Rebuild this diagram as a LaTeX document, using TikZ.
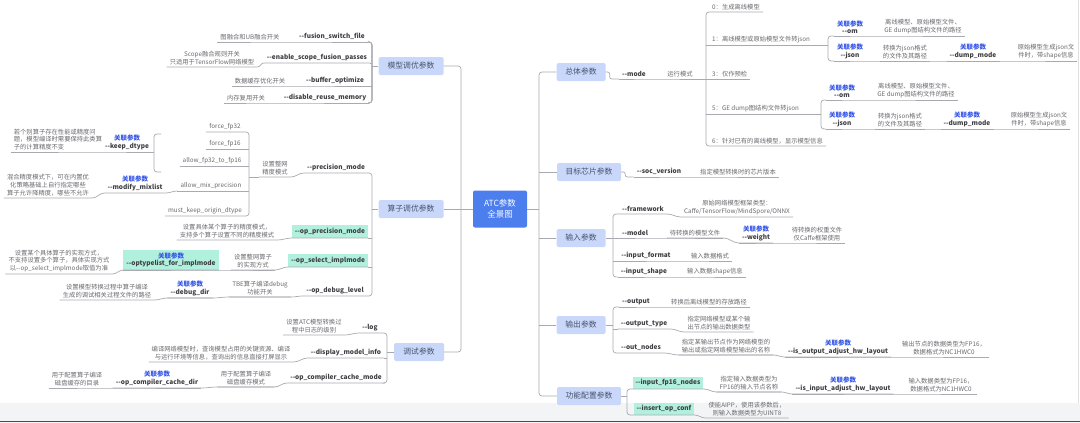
\documentclass[tikz,border=0pt]{standalone}
\usepackage{fontspec}
\setmainfont{Noto Sans CJK SC}
\usepackage{tikz}
\definecolor{lineg}{RGB}{168,170,176}
\definecolor{rootc}{RGB}{76,126,238}
\definecolor{topicc}{RGB}{201,215,250}
\definecolor{topict}{RGB}{72,84,110}
\definecolor{desct}{RGB}{105,105,110}
\definecolor{prmt}{RGB}{62,62,66}
\definecolor{relc}{RGB}{52,84,232}
\definecolor{tealc}{RGB}{178,240,222}
\definecolor{bandc}{RGB}{243,244,246}
\tikzset{
  ln/.style={draw=lineg, line width=.7pt},
  root/.style={fill=rootc, text=white, rounded corners=2pt, minimum width=54pt, minimum height=37pt, align=center, font=\fontsize{8.5}{11}\selectfont},
  topic/.style={fill=topicc, text=topict, rounded corners=1.5pt, minimum height=18pt, font=\fontsize{7.8}{9}\selectfont},
  desc/.style={anchor=south, text=desct, align=center, inner xsep=3pt, inner ysep=2pt, font=\fontsize{6.3}{7.6}\selectfont},
  prm/.style={desc, text=prmt, font=\bfseries\fontsize{6.5}{7.6}\selectfont},
  hl/.style={prm, fill=tealc, minimum height=13pt},
}
\newcommand{\dopt}[1]{-{}-#1}
\newcommand{\relp}[1]{{\color{relc}关联参数}\\\dopt{#1}}
\newcommand{\lnk}[2]{\draw[ln] (#1.south west) -- (#1.south east) to[out=0,in=180] (#2.south west) -- (#2.south east);}
\begin{document}
\begin{tikzpicture}[x=1pt, y=-1pt]
\useasboundingbox (0,0) rectangle (1080,423);
\fill[bandc] (0,403) rectangle (1080,423);
\draw[black!70, line width=1.5pt] (0,421.5) -- (1080,421.5);
\draw[black!12] (1078,0) -- (1078,403);

% bracket positions
\coordinate (lt) at (461,0);
\coordinate (rt) at (539,0);
\coordinate (b1) at (372,0);
\coordinate (b3) at (387,0);
\coordinate (bm) at (249,0);
\coordinate (bv) at (706,0);
\coordinate (c1) at (828,0);
\coordinate (c5) at (821,0);
\coordinate (bi) at (613,0);
\coordinate (bf) at (627,0);

% centre and main branches
\node[root] (atc) at (500,209) {ATC参数\\全景图};
\node[topic, minimum width=65pt] (tM) at (411,66) {模型调优参数};
\node[topic, minimum width=65pt] (tO) at (411,209) {算子调优参数};
\node[topic, minimum width=50pt] (tD) at (419,352) {调试参数};
\node[topic, minimum width=49pt] (tG) at (581,72) {总体参数};
\node[topic, minimum width=64pt] (tS) at (589,172) {目标芯片参数};
\node[topic, minimum width=49pt] (tI) at (581,238) {输入参数};
\node[topic, minimum width=49pt] (tX) at (581,325) {输出参数};
\node[topic, minimum width=64pt] (tF) at (589,396) {功能配置参数};
\draw[ln, rounded corners=3pt] (tM.east) -- (tM.east -| lt) -- (tD.east -| lt) -- (tD.east);
\draw[ln] (atc.west) -- (tO.east);
\draw[ln, rounded corners=3pt] (tG.west) -- (tG.west -| rt) -- (tF.west -| rt) -- (tF.west);
\foreach \n in {tS,tI,tX} \draw[ln] (\n.west) -- (\n.west -| rt);
\draw[ln] (atc.east) -- (atc.east -| rt);

% 模型调优参数
\node[desc] (d11) at (250,42) {图融合和UB融合开关};
\node[prm] (p11) at (332,42) {\dopt{fusion\_switch\_file}};
\node[desc] (d12) at (212,67) {Scope融合规则开关\\只适用于TensorFlow网络模型};
\node[prm] (p12) at (317,63) {\dopt{enable\_scope\_fusion\_passes}};
\node[desc] (d13) at (260,86) {数据缓存优化开关};
\node[prm] (p13) at (335,86) {\dopt{buffer\_optimize}};
\node[desc] (d14) at (246,103) {内存复用开关};
\node[prm] (p14) at (325,103) {\dopt{disable\_reuse\_memory}};
\foreach \a/\b in {d11/p11,d12/p12,d13/p13,d14/p14} \lnk{\a}{\b}
\draw[ln, rounded corners=3pt] (p11.south east) -- (p11.south east -| b1) -- (p14.south east -| b1) -- (p14.south east);
\foreach \n in {p12,p13} \draw[ln] (\n.south east) -- (\n.south east -| b1);
\draw[ln] (tM.west) -- (tM.west -| b1);

% 算子调优参数
\node[prm] (p21) at (336,173) {\dopt{precision\_mode}};
\node[desc] (d21) at (275,177) {设置整网\\精度模式};
\node[desc] (m1) at (225,132) {force\_fp32};
\node[desc] (m2) at (225,149) {force\_fp16};
\node[desc] (m3) at (212,166) {allow\_fp32\_to\_fp16};
\node[desc] (m4) at (211,191) {allow\_mix\_precision};
\node[desc] (m5) at (205,216) {must\_keep\_origin\_dtype};
\lnk{d21}{p21}
\draw[ln] (d21.south west) -- (d21.south west -| bm);
\draw[ln, rounded corners=3pt] (m1.south west) -- (m1.south east -| bm) -- (m5.south east -| bm) -- (m5.south west);
\foreach \n in {m2,m3,m4} \draw[ln] (\n.south west) -- (\n.south east -| bm);

\node[prm] (r1) at (127,152) {\relp{keep\_dtype}};
\node[desc, align=left] (dk) at (58,152) {若个别算子存在性能或精度问\\题，模型编译时需要保持此类算\\子的计算精度不变};
\coordinate (k1) at (161,134);
\coordinate (k2) at (161,172);
\coordinate (kt) at (154,152);
\draw[ln, rounded corners=3pt] (k1) -- (k1 -| kt) -- (k2 -| kt) -- (k2);
\lnk{dk}{r1}
\draw[ln] (r1.south east) -- (kt);

\node[prm] (r2) at (135,193) {\relp{modify\_mixlist}};
\node[desc] (dm) at (48,198) {混合精度模式下，可在内置优\\化策略基础上自行指定哪些\\算子允许降精度，哪些不允许};
\lnk{dm}{r2}
\draw[ln] (r2.south east) to[out=0,in=180] (m4.south west);

\node[hl, minimum width=74pt] (p22) at (330,238) {\dopt{op\_precision\_mode}};
\node[desc] (d22) at (227,240) {设置具体某个算子的精度模式，\\支持多个算子设置不同的精度模式};
\lnk{d22}{p22}

\node[hl, minimum width=77pt] (p23) at (328,267) {\dopt{op\_select\_implmode}};
\node[desc] (d23) at (253,270) {设置整网算子\\的实现方式};
\node[hl, minimum width=91pt, minimum height=20pt] (r3) at (171,270) {\relp{optypelist\_for\_implmode}};
\node[desc] (d3) at (59,274) {设置某个具体算子的实现方式，\\不支持设置多个算子，具体实现方式\\以\dopt{op\_select\_implmode}取值为准};
\lnk{d3}{r3} \lnk{r3}{d23} \lnk{d23}{p23}

\node[prm] (p24) at (335,296) {\dopt{op\_debug\_level}};
\node[desc] (d24) at (260,297) {TBE算子编译debug\\功能开关};
\node[prm] (r4) at (190,298) {\relp{debug\_dir}};
\node[desc] (d4) at (107,300) {设置模型转换过程中算子编译\\生成的调试相关过程文件的路径};
\lnk{d4}{r4} \lnk{r4}{d24} \lnk{d24}{p24}

\draw[ln, rounded corners=3pt] (p21.south east) -- (p21.south east -| b1) -- (p24.south east -| b1) -- (p24.south east);
\foreach \n in {p22,p23} \draw[ln] (\n.south east) -- (\n.south east -| b1);
\draw[ln] (tO.west) -- (tO.west -| b1);

% 调试参数
\node[prm] (p31) at (370,333) {\dopt{log}};
\node[desc] (d31) at (314,335) {设置ATC模型转换过\\程中日志的级别};
\node[prm] (p32) at (346,358) {\dopt{display\_model\_info}};
\node[desc] (d32) at (221,362) {编译网络模型时，查询模型占用的关键资源、编译\\与运行环境等信息，查询出的信息直接打屏显示};
\node[prm] (p33) at (336,383) {\dopt{op\_compiler\_cache\_mode}};
\node[desc] (d33) at (246,387) {用于配置算子编译\\磁盘缓存模式};
\node[prm] (r5) at (157,388) {\relp{op\_compiler\_cache\_dir}};
\node[desc] (d5) at (77,388) {用于配置算子编译\\磁盘缓存的目录};
\lnk{d31}{p31} \lnk{d32}{p32} \lnk{d5}{r5} \lnk{r5}{d33} \lnk{d33}{p33}
\draw[ln, rounded corners=3pt] (p31.south east) -- (p31.south east -| b3) -- (p33.south east -| b3) -- (p33.south east);
\draw[ln] (p32.south east) -- (p32.south east -| b3);
\draw[ln] (tD.west) -- (tD.west -| b3);

% 总体参数
\node[prm] (p41) at (634,79) {\dopt{mode}};
\node[desc] (d41) at (680,79) {运行模式};
\draw[ln, rounded corners=2pt] (tG.east) -- ++(4,0) |- (p41.south west);
\lnk{p41}{d41}
\draw[ln] (d41.south east) -- (d41.south east -| bv);
\node[desc, anchor=south west] (v0) at (709,12) {0：生成离线模型};
\node[desc, anchor=south west] (v1) at (709,45) {1：离线模型或原始模型文件转json};
\node[desc, anchor=south west] (v3) at (709,79) {3：仅作预检};
\node[desc, anchor=south west] (v5) at (709,114) {5：GE dump图结构文件转json};
\node[desc, anchor=south west] (v6) at (709,146) {6：针对已有的离线模型，显示模型信息};
\draw[ln, rounded corners=3pt] (v0.south east) -- (v0.south west -| bv) -- (v6.south west -| bv) -- (v6.south east);
\foreach \n in {v1,v3,v5} \draw[ln] (\n.south west -| bv) -- (\n.south east);

\node[prm] (o1) at (850,36) {\relp{om}};
\node[desc] (do1) at (923,36) {离线模型、原始模型文件、\\GE dump图结构文件的路径};
\node[prm] (j1) at (850,61) {\relp{json}};
\node[desc] (dj1) at (905,61) {转换为json格式\\的文件及其路径};
\node[prm] (u1) at (973,61) {\relp{dump\_mode}};
\node[desc] (du1) at (1046,61) {原始模型生成json文\\件时，带shape信息};
\lnk{o1}{do1} \lnk{j1}{dj1} \lnk{dj1}{u1} \lnk{u1}{du1}
\draw[ln, rounded corners=3pt] (o1.south west) -- (o1.south west -| c1) -- (j1.south west -| c1) -- (j1.south west);
\draw[ln] (v1.south east) -- (v1.south east -| c1);

\node[prm] (o5) at (842,100) {\relp{om}};
\node[desc] (do5) at (916,100) {离线模型、原始模型文件、\\GE dump图结构文件的路径};
\node[prm] (j5) at (842,129) {\relp{json}};
\node[desc] (dj5) at (900,129) {转换为json格式\\的文件及其路径};
\node[prm] (u5) at (967,129) {\relp{dump\_mode}};
\node[desc] (du5) at (1039,129) {原始模型生成json文\\件时，带shape信息};
\lnk{o5}{do5} \lnk{j5}{dj5} \lnk{dj5}{u5} \lnk{u5}{du5}
\draw[ln, rounded corners=3pt] (o5.south west) -- (o5.south west -| c5) -- (j5.south west -| c5) -- (j5.south west);
\draw[ln] (v5.south east) -- (v5.south east -| c5);

% 目标芯片参数
\node[prm] (p51) at (659,177) {\dopt{soc\_version}};
\node[desc] (d51) at (738,177) {指定模型转换时的芯片版本};
\draw[ln, rounded corners=2pt] (tS.east) -- ++(4,0) |- (p51.south west);
\lnk{p51}{d51}

% 输入参数
\node[prm] (p61) at (643,214) {\dopt{framework}};
\node[desc] (d61) at (737,217) {原始网络模型框架类型：\\Caffe/TensorFlow/MindSpore/ONNX};
\node[prm] (p62) at (635,238) {\dopt{model}};
\node[desc] (d62) at (695,238) {待转换的模型文件};
\node[prm] (r62) at (756,243) {\relp{weight}};
\node[desc] (dr62) at (817,243) {待转换的权重文件\\仅Caffe框架使用};
\node[prm] (p63) at (646,261) {\dopt{input\_format}};
\node[desc] (d63) at (710,261) {输入数据格式};
\node[prm] (p64) at (644,277) {\dopt{input\_shape}};
\node[desc] (d64) at (715,277) {输入数据shape信息};
\lnk{p61}{d61} \lnk{p62}{d62} \lnk{d62}{r62} \lnk{r62}{dr62} \lnk{p63}{d63} \lnk{p64}{d64}
\draw[ln, rounded corners=3pt] (p61.south west) -- (p61.south west -| bi) -- (p64.south west -| bi) -- (p64.south west);
\foreach \n in {p62,p63} \draw[ln] (\n.south west -| bi) -- (\n.south west);
\draw[ln] (tI.east) -- (tI.east -| bi);

% 输出参数
\node[prm] (p71) at (636,307) {\dopt{output}};
\node[desc] (d71) at (709,307) {转换后离线模型的存放路径};
\node[prm] (p72) at (644,329) {\dopt{output\_type}};
\node[desc] (d72) at (719,332) {指定网络模型或某个输\\出节点的输出数据类型};
\node[prm] (p73) at (641,353) {\dopt{out\_nodes}};
\node[desc] (d73) at (726,355) {指定某输出节点作为网络模型的\\输出或指定网络模型输出的名称};
\node[prm] (r73) at (838,357) {\relp{is\_output\_adjust\_hw\_layout}};
\node[desc] (dr73) at (944,357) {输出节点的数据类型为FP16，\\数据格式为NC1HWC0};
\lnk{p71}{d71} \lnk{p72}{d72} \lnk{p73}{d73} \lnk{d73}{r73} \lnk{r73}{dr73}
\draw[ln, rounded corners=3pt] (p71.south west) -- (p71.south west -| bi) -- (p73.south west -| bi) -- (p73.south west);
\draw[ln] (p72.south west -| bi) -- (p72.south west);
\draw[ln] (tX.east) -- (tX.east -| bi);

% 功能配置参数
\node[hl, minimum width=70pt, minimum height=12pt] (p81) at (668,389) {\dopt{input\_fp16\_nodes}};
\node[desc] (d81) at (749,392) {指定输入数据类型为\\FP16的输入节点名称};
\node[prm] (r81) at (843,394) {\relp{is\_input\_adjust\_hw\_layout}};
\node[desc] (dr81) at (941,394) {输入数据类型为FP16，\\数据格式为NC1HWC0};
\node[hl, minimum width=59pt, minimum height=12pt] (p82) at (664,415) {\dopt{insert\_op\_conf}};
\node[desc] (d82) at (747,418) {使能AIPP，使用该参数后，\\则输入数据类型为UINT8};
\lnk{p81}{d81} \lnk{d81}{r81} \lnk{r81}{dr81} \lnk{p82}{d82}
\draw[ln, rounded corners=3pt] (p81.south west) -- (p81.south west -| bf) -- (p82.south west -| bf) -- (p82.south west);
\draw[ln] (tF.east) -- (tF.east -| bf);
\end{tikzpicture}
\end{document}
